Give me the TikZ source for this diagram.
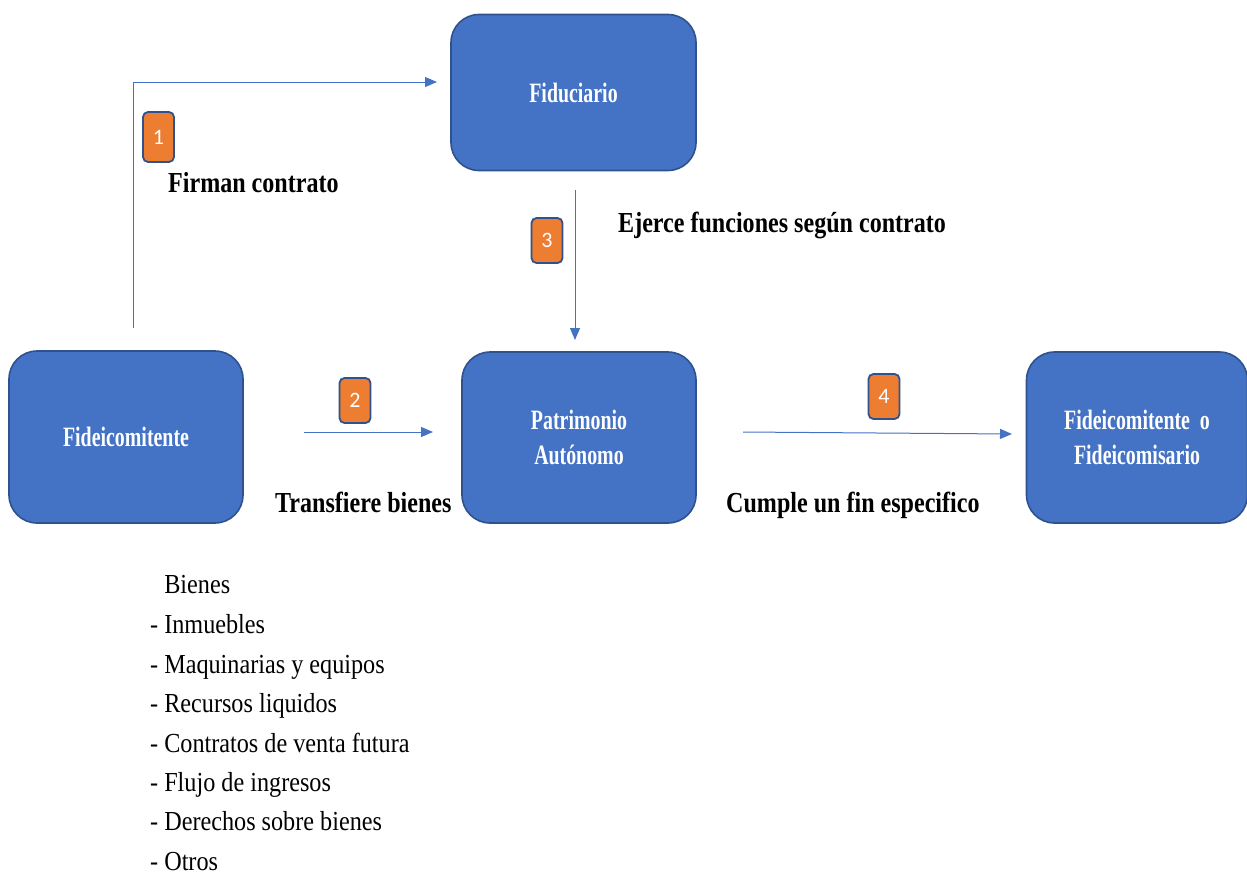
\documentclass[tikz,border=0pt]{standalone}
\usepackage{fontspec}
\setmainfont{Liberation Serif}
\newfontfamily\lblfont[FakeStretch=0.83]{Liberation Serif}
\newfontfamily\boxfont[FakeStretch=0.71]{Liberation Serif}
\newfontfamily\listfont[FakeStretch=0.88]{Liberation Serif}
\newfontfamily\badgefont{Carlito}
\usetikzlibrary{arrows.meta}
\definecolor{boxblue}{HTML}{4472C4}
\definecolor{edgeblue}{HTML}{2F528F}
\definecolor{badgeorange}{HTML}{ED7D31}
\tikzset{
  mainbox/.style={draw=edgeblue, line width=1.6pt, fill=boxblue, rounded corners=28pt,
    text=white, align=center, inner sep=0pt,
    font=\boxfont\bfseries\fontsize{28}{35}\selectfont},
  badge/.style={draw=edgeblue, line width=1.8pt, fill=badgeorange, rounded corners=5pt,
    text=white, minimum width=31pt, minimum height=45pt, inner sep=0pt,
    font=\badgefont\fontsize{22}{24}\selectfont},
  lbl/.style={anchor=base west, inner sep=0pt, font=\lblfont\bfseries\fontsize{29}{32}\selectfont},
  listitem/.style={anchor=base west, inner sep=0pt, font=\listfont\fontsize{27.5}{30}\selectfont},
  conn/.style={draw=boxblue, line width=1pt, -{Triangle[length=12pt,width=10pt]}}
}
\begin{document}
\begin{tikzpicture}[x=1pt,y=-1pt]
\useasboundingbox (0,0) rectangle (1247,876);
% boxes
\node[mainbox, minimum width=245pt, minimum height=156pt] (fid) at (573.5,92.5) {Fiduciario};
\node[mainbox, minimum width=234pt, minimum height=172pt] (fte) at (126,437) {Fideicomitente};
\node[mainbox, minimum width=234pt, minimum height=171pt] (pat) at (579,437.5) {Patrimonio\\Autónomo};
\node[mainbox, minimum width=221pt, minimum height=171pt] (fin) at (1137,437.5) {Fideicomitente\ \ o\\Fideicomisario};
% connectors (free ends as named coordinates)
\coordinate (c1s) at (133,328);
\coordinate (c1m) at (133,82);
\coordinate (c1e) at (437,82);
\coordinate (c2s) at (304,432);
\coordinate (c2e) at (433,432);
\coordinate (c3s) at (575,190);
\coordinate (c3e) at (575,340);
\coordinate (c4s) at (743,432);
\coordinate (c4e) at (1012,434);
\draw[conn] (c1s) -- (c1m) -- (c1e);
\draw[conn] (c2s) -- (c2e);
\draw[conn] (c3s) -- (c3e);
\draw[conn] (c4s) -- (c4e);
% badges
\node[badge, minimum height=50pt] (b1) at (158.5,137) {1};
\node[badge] (b2) at (355,400.5) {2};
\node[badge] (b3) at (547,240.5) {3};
\node[badge] (b4) at (884,396.5) {4};
% labels
\node[lbl] (l1) at (168,192) {Firman contrato};
\node[lbl] (l3) at (618,232) {Ejerce funciones según contrato};
\node[lbl] (l2) at (275,512) {Transfiere bienes};
\node[lbl] (l4) at (726,512) {Cumple un fin especifico};
% list
\node[listitem] (i0) at (150,593) {\hphantom{- }Bienes};
\node[listitem] (i1) at (150,633) {- Inmuebles};
\node[listitem] (i2) at (150,673) {- Maquinarias y equipos};
\node[listitem] (i3) at (150,712) {- Recursos liquidos};
\node[listitem] (i4) at (150,752) {- Contratos de venta futura};
\node[listitem] (i5) at (150,791) {- Flujo de ingresos};
\node[listitem] (i6) at (150,830) {- Derechos sobre bienes};
\node[listitem] (i7) at (150,870) {- Otros};
\end{tikzpicture}
\end{document}
